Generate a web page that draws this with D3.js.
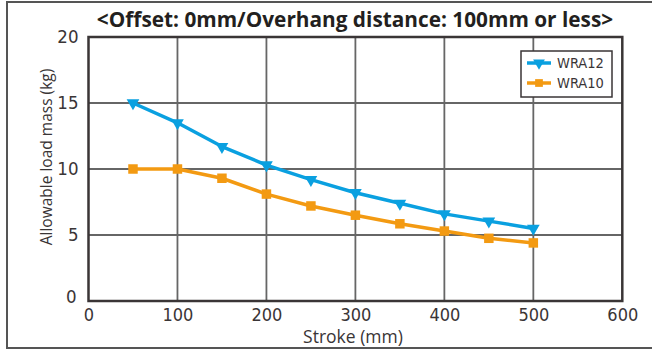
<!DOCTYPE html>
<html>
<head>
<meta charset="utf-8">
<script src="https://cdn.jsdelivr.net/npm/d3@7"></script>
<style>
html,body{margin:0;padding:0;background:#fff;}
svg{display:block;}
</style>
</head>
<body>
<svg id="chart" width="652" height="352"></svg>
<script>
const strokes = [50, 100, 150, 200, 250, 300, 350, 400, 450, 500];
const wra12 = [15.0, 13.5, 11.7, 10.3, 9.2, 8.2, 7.4, 6.6, 6.05, 5.5];
const wra10 = [10.0, 10.0, 9.3, 8.1, 7.2, 6.5, 5.85, 5.3, 4.75, 4.4];
const xTicks = [0, 100, 200, 300, 400, 500, 600];
const yTicks = [0, 5, 10, 15, 20];
const seriesNames = ["WRA12", "WRA10"];
const seriesColors = ["#0aa0e0", "#f39a12"];
const titleText = "<Offset: 0mm/Overhang distance: 100mm or less>";
const xLabel = "Stroke (mm)";
const yLabel = "Allowable load mass (kg)";

const svg = d3.select("#chart");
const L = 88.5, R = 622.3, T = 37, B = 301;
const x = d3.scaleLinear().domain([0, 600]).range([L, R]);
const y = d3.scaleLinear().domain([0, 20]).range([B, T]);

// outer border
svg.append("rect").attr("x", 7).attr("y", 2).attr("width", 652).attr("height", 346)
  .attr("fill", "none").attr("stroke", "#555").attr("stroke-width", 2);

// title
svg.append("text").attr("x", 355).attr("y", 27).attr("text-anchor", "middle")
  .attr("font-family", "'Open Sans', 'Noto Sans', sans-serif").attr("font-weight", "bold")
  .attr("font-size", 20.8).attr("fill", "#231f20").text(titleText);

// grid
const g = svg.append("g");
g.selectAll("line.vg").data(xTicks.slice(1, -1)).enter().append("line")
  .attr("x1", d => x(d)).attr("x2", d => x(d)).attr("y1", T).attr("y2", B)
  .attr("stroke", "#666").attr("stroke-width", 1.8);
g.selectAll("line.hg").data(yTicks.slice(1, -1)).enter().append("line")
  .attr("y1", d => y(d)).attr("y2", d => y(d)).attr("x1", L).attr("x2", R)
  .attr("stroke", "#666").attr("stroke-width", 1.8);

// frame
svg.append("rect").attr("x", L).attr("y", T).attr("width", R - L).attr("height", B - T)
  .attr("fill", "none").attr("stroke", "#3a3536").attr("stroke-width", 2.5);

// axes via d3 (ticks hidden, labels only)
const tickFont = "'Liberation Sans Narrow', 'DejaVu Sans Condensed', sans-serif";
const xAxis = svg.append("g").attr("transform", `translate(0,${B})`)
  .call(d3.axisBottom(x).tickValues(xTicks).tickSize(0));
xAxis.select(".domain").remove();
xAxis.selectAll("text").attr("font-family", tickFont).attr("font-size", 18).attr("fill", "#3a3536")
  .attr("y", 19.5).attr("dy", 0);
const yAxis = svg.append("g").attr("transform", `translate(${L},0)`)
  .call(d3.axisLeft(y).tickValues(yTicks).tickSize(0).tickPadding(10));
yAxis.select(".domain").remove();
yAxis.selectAll("text").attr("font-family", tickFont).attr("font-size", 18.5).attr("fill", "#3a3536");
// the y "0" label sits slightly up/left in the reference
yAxis.selectAll(".tick").filter(d => d === 0).select("text").attr("dy", "0.1em").attr("x", -12);

// axis titles
svg.append("text").attr("x", 353).attr("y", 343).attr("text-anchor", "middle")
  .attr("font-family", "'Open Sans', 'Noto Sans', sans-serif").attr("font-size", 17.5)
  .attr("fill", "#3a3536").text(xLabel);
svg.append("text").attr("transform", "translate(52,157) rotate(-90)").attr("text-anchor", "middle")
  .attr("font-family", "'Open Sans', 'Noto Sans', sans-serif").attr("font-size", 15.5)
  .attr("fill", "#3a3536").text(yLabel);

// series
const series = [wra12, wra10];
const line = d3.line().x((d, i) => x(strokes[i])).y(d => y(d));
const tri = d3.symbol().type(d3.symbolTriangle).size(70);
const sq = d3.symbol().type(d3.symbolSquare).size(90);

series.forEach((vals, si) => {
  svg.append("path").datum(vals).attr("d", line).attr("fill", "none")
    .attr("stroke", seriesColors[si]).attr("stroke-width", 3.5).attr("stroke-linejoin", "round");
  svg.selectAll("path.m" + si).data(vals).enter().append("path")
    .attr("d", si === 0 ? tri : sq)
    .attr("transform", (d, i) => `translate(${x(strokes[i])},${y(d)})` + (si === 0 ? " rotate(180)" : ""))
    .attr("fill", seriesColors[si]);
});

// legend
const lg = svg.append("g");
lg.append("rect").attr("x", 521).attr("y", 51).attr("width", 91).attr("height", 46)
  .attr("fill", "#fff").attr("stroke", "#3a3536").attr("stroke-width", 1.5);
seriesNames.forEach((n, i) => {
  const yy = 63 + i * 20;
  lg.append("line").attr("x1", 527).attr("x2", 551).attr("y1", yy).attr("y2", yy)
    .attr("stroke", seriesColors[i]).attr("stroke-width", 3.5);
  lg.append("path").attr("d", i === 0 ? tri.size(60)() : sq.size(60)())
    .attr("transform", `translate(539,${yy})` + (i === 0 ? " rotate(180)" : ""))
    .attr("fill", seriesColors[i]);
  lg.append("text").attr("x", 557).attr("y", yy + 5).attr("font-family", tickFont)
    .attr("font-size", 14.5).attr("fill", "#3a3536").text(n);
});
</script>
</body>
</html>
